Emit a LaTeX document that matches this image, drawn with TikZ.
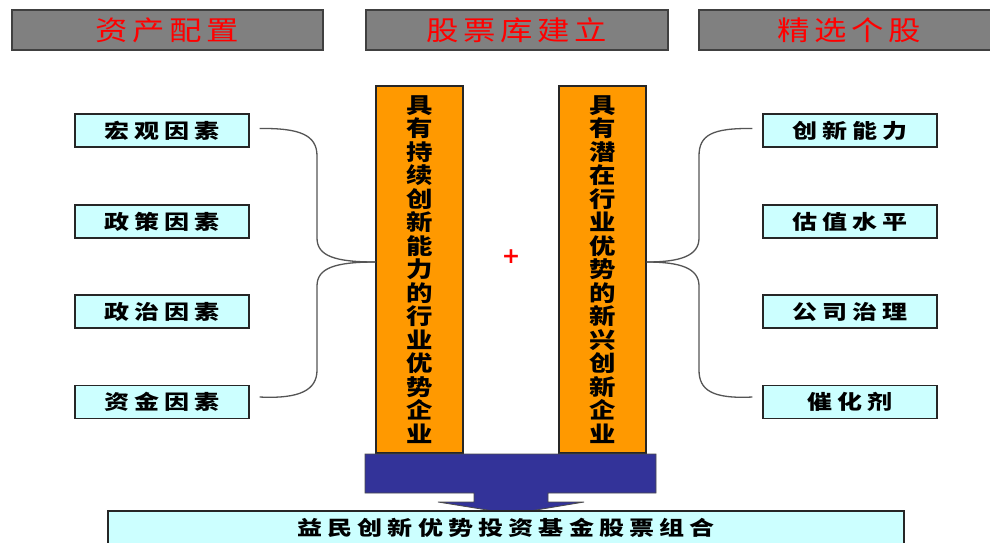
\documentclass[tikz,border=0pt]{standalone}
\usepackage{fontspec}
\newfontfamily\cjkh{Noto Sans CJK SC}[FakeStretch=1.2, LetterSpace=17]
\newfontfamily\cjkb{Noto Sans CJK SC}[FakeStretch=1.25, LetterSpace=26]
\newfontfamily\cjkc{Noto Sans CJK SC}[FakeStretch=1.2]
\newfontfamily\plusfont{DejaVu Sans}
\definecolor{hdrgray}{HTML}{808080}
\definecolor{hdrline}{HTML}{404040}
\definecolor{cyanbox}{HTML}{CCFFFF}
\definecolor{orangecol}{HTML}{FF9900}
\definecolor{navyarrow}{HTML}{333399}
\definecolor{bracegray}{HTML}{555555}
\tikzset{
  hdrbox/.style={draw=hdrline, line width=1.3pt, fill=hdrgray, minimum height=40pt, inner sep=0pt,
    text=red, font=\fontsize{27}{30}\selectfont\cjkh},
  factorbox/.style={draw=black!85, line width=1.2pt, fill=cyanbox, minimum width=174pt, minimum height=33pt, inner sep=0pt,
    font=\fontsize{20}{22}\selectfont\cjkb\bfseries},
  colbox/.style={draw=black!85, line width=1.2pt, fill=orangecol, minimum width=87pt, minimum height=367pt, inner sep=0pt,
    align=center, font=\fontsize{22}{23.5}\selectfont\cjkc\bfseries},
  bracelink/.style={draw=bracegray, line width=1.3pt},
}
\begin{document}
\begin{tikzpicture}[x=1pt,y=-1pt]
\useasboundingbox (0,0) rectangle (990,542);
\fill[white] (0,0) rectangle (990,542);
% headers
\node[hdrbox, minimum width=311pt] (h1) at (167.5,30) {资产配置};
\node[hdrbox, minimum width=302pt] (h2) at (517,30) {股票库建立};
\node[hdrbox, minimum width=300pt] (h3) at (849,30) {精选个股};
% left factor boxes
\node[factorbox] (l1) at (162,130.5) {宏观因素};
\node[factorbox] (l2) at (162,221.5) {政策因素};
\node[factorbox] (l3) at (162,311.5) {政治因素};
\node[factorbox] (l4) at (162,402) {资金因素};
% right factor boxes
\node[factorbox] (r1) at (850,130.5) {创新能力};
\node[factorbox] (r2) at (850,221.5) {估值水平};
\node[factorbox] (r3) at (850,311.5) {公司治理};
\node[factorbox] (r4) at (850,402) {催化剂};
% columns
\node[colbox] (c1) at (419.5,269.5) {具\\有\\持\\续\\创\\新\\能\\力\\的\\行\\业\\优\\势\\企\\业};
\node[colbox] (c2) at (602.5,269.5) {具\\有\\潜\\在\\行\\业\\优\\势\\的\\新\\兴\\创\\新\\企\\业};
% plus
\node[text=red, font=\plusfont\bfseries\fontsize{22}{22}\selectfont, inner sep=0pt] (plus) at (511,257) {+};
% left brace
\coordinate (lt) at ([xshift=10pt,yshift=2pt]l1.east);
\coordinate (lb) at ([xshift=10pt,yshift=5pt]l4.east);
\coordinate (ltip) at ([yshift=7.5pt]c1.west);
\draw[bracelink] (lt) .. controls (300,128) and (317,135) .. (317,156) -- (317,238)
   .. controls (317,256) and (335,262) .. (ltip);
\draw[bracelink] (ltip) .. controls (335,262) and (317,268) .. (317,286) -- (317,370)
   .. controls (317,390) and (300,399) .. (lb);
% right brace
\coordinate (rt) at ([xshift=-10pt,yshift=2pt]r1.west);
\coordinate (rb) at ([xshift=-10pt,yshift=5pt]r4.west);
\coordinate (rtip) at ([yshift=7.5pt]c2.east);
\draw[bracelink] (rt) .. controls (712,128) and (699,135) .. (699,156) -- (699,238)
   .. controls (699,256) and (680,262) .. (rtip);
\draw[bracelink] (rtip) .. controls (680,262) and (699,268) .. (699,286) -- (699,370)
   .. controls (699,390) and (712,399) .. (rb);
% big arrow
\draw[fill=navyarrow, draw=black!70, line width=0.8pt] (365,454) -- (656,454) -- (656,493) -- (548,493) -- (548,502)
  -- (584,502) -- (512,514) -- (438,502) -- (474,502) -- (474,493) -- (365,493) -- cycle;
% bottom box
\node[draw=black!85, line width=1.2pt, fill=cyanbox, minimum width=796pt, minimum height=34pt, inner sep=0pt,
  font=\fontsize{20}{22}\selectfont\cjkb\bfseries] (bot) at (506,528) {益民创新优势投资基金股票组合};
\end{tikzpicture}
\end{document}
